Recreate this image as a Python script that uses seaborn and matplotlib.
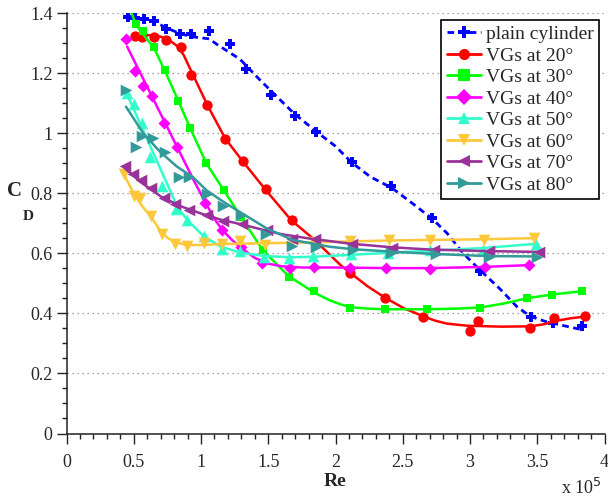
import numpy as np
import pandas as pd
import seaborn as sns
import matplotlib
matplotlib.use("Agg")
import matplotlib.pyplot as plt
from matplotlib.lines import Line2D
from matplotlib.ticker import MultipleLocator

sns.set_style("ticks")
plt.rcParams['font.family'] = ['Liberation Serif', 'DejaVu Serif']

# ---------------- data (Re in units of 1e5, CD) ----------------
labels = ["plain cylinder", "VGs at 20°", "VGs at 30°", "VGs at 40°",
          "VGs at 50°", "VGs at 60°", "VGs at 70°", "VGs at 80°"]

# measured points (markers)
plain_re = [0.459, 0.506, 0.575, 0.649, 0.743, 0.842, 0.927, 1.063, 1.212, 1.338, 1.517,
            1.697, 1.856, 2.124, 2.416, 2.719, 3.078, 3.45, 3.616, 3.829]
plain_cd = [1.389, 1.383, 1.38, 1.375, 1.347, 1.33, 1.33, 1.342, 1.297, 1.214, 1.128,
            1.059, 1.005, 0.903, 0.824, 0.717, 0.542, 0.387, 0.367, 0.358]

vg20_re = [0.513, 0.563, 0.649, 0.743, 0.848, 0.927, 1.047, 1.178, 1.31, 1.48, 1.673,
           2.106, 2.367, 2.652, 3.0, 3.06, 3.445, 3.624, 3.854]
vg20_cd = [1.324, 1.32, 1.32, 1.311, 1.289, 1.194, 1.095, 0.982, 0.909, 0.814, 0.711,
           0.535, 0.452, 0.389, 0.343, 0.376, 0.35, 0.385, 0.391]

vg30_re = [0.52, 0.57, 0.65, 0.73, 0.83, 0.915, 1.037, 1.168, 1.30, 1.46, 1.655, 1.839,
           2.106, 2.367, 2.682, 3.078, 3.425, 3.611, 3.829]
vg30_cd = [1.363, 1.341, 1.289, 1.211, 1.109, 1.019, 0.901, 0.81, 0.72, 0.612, 0.522, 0.475,
           0.417, 0.414, 0.414, 0.419, 0.45, 0.461, 0.474]

vg40_re = [0.446, 0.513, 0.57, 0.635, 0.725, 0.821, 1.029, 1.158, 1.294, 1.455, 1.658, 1.837,
           2.106, 2.379, 2.706, 3.115, 3.437]
vg40_cd = [1.314, 1.209, 1.159, 1.126, 1.034, 0.954, 0.767, 0.677, 0.622, 0.567, 0.553, 0.554,
           0.553, 0.552, 0.547, 0.555, 0.561]

vg50_re = [0.449, 0.502, 0.561, 0.623, 0.712, 0.817, 0.896, 1.02, 1.154, 1.292, 1.465, 1.657,
           1.835, 2.112, 2.392, 2.706, 3.098, 3.487]
vg50_cd = [1.135, 1.098, 1.033, 0.922, 0.825, 0.748, 0.71, 0.657, 0.615, 0.608, 0.588, 0.585,
           0.59, 0.598, 0.602, 0.613, 0.613, 0.633]

vg60_re = [0.428, 0.502, 0.546, 0.626, 0.708, 0.81, 0.896, 1.022, 1.154, 1.29, 1.476, 1.839,
           2.106, 2.396, 2.706, 3.103, 3.474]
vg60_cd = [0.865, 0.792, 0.786, 0.723, 0.665, 0.63, 0.626, 0.634, 0.63, 0.642, 0.629, 0.637,
           0.641, 0.644, 0.646, 0.646, 0.652]

vg70_re = [0.437, 0.497, 0.557, 0.625, 0.722, 0.808, 0.91, 1.042, 1.166, 1.306, 1.489, 1.674,
           1.85, 2.124, 2.421, 2.731, 3.14, 3.512]
vg70_cd = [0.892, 0.864, 0.843, 0.818, 0.784, 0.764, 0.746, 0.728, 0.707, 0.698, 0.677, 0.649,
           0.648, 0.631, 0.619, 0.611, 0.609, 0.606]

vg80_re = [0.444, 0.515, 0.561, 0.642, 0.734, 0.833, 0.913, 1.044, 1.166, 1.3, 1.485, 1.68,
           1.856, 2.131, 2.409, 2.744, 3.14, 3.5]
vg80_cd = [1.146, 0.955, 0.991, 0.983, 0.939, 0.854, 0.855, 0.798, 0.757, 0.728, 0.666, 0.625,
           0.621, 0.613, 0.603, 0.597, 0.589, 0.589]

# fitted curves
plain_fit_re = [0.46, 0.65, 0.74, 0.84, 0.93, 1.06, 1.12, 1.29, 1.44, 1.69, 1.86, 2.0, 2.12,
                2.26, 2.42, 2.58, 2.72, 2.83, 2.95, 3.08, 3.22, 3.35, 3.45, 3.57, 3.72, 3.84]
plain_fit_cd = [1.39, 1.373, 1.352, 1.333, 1.322, 1.315, 1.296, 1.247, 1.177, 1.067, 1.005,
                0.957, 0.903, 0.855, 0.818, 0.764, 0.715, 0.667, 0.6, 0.542, 0.483, 0.422,
                0.39, 0.372, 0.357, 0.345]

vg20_fit_re = [0.50, 0.60, 0.70, 0.76, 0.82, 0.87, 0.93, 1.05, 1.18, 1.31, 1.48, 1.67, 1.84,
               2.04, 2.11, 2.24, 2.37, 2.51, 2.65, 2.74, 2.83, 2.98, 3.23, 3.45, 3.55, 3.65,
               3.75, 3.85]
vg20_fit_cd = [1.33, 1.328, 1.322, 1.312, 1.292, 1.262, 1.205, 1.092, 0.983, 0.907, 0.812,
               0.711, 0.647, 0.56, 0.535, 0.49, 0.452, 0.417, 0.391, 0.376, 0.366, 0.359,
               0.356, 0.357, 0.364, 0.376, 0.384, 0.389]

vg30_fit_re = [0.475, 0.52, 0.57, 0.65, 0.73, 0.83, 0.917, 1.04, 1.17, 1.30, 1.46, 1.65, 1.84,
               1.95, 2.04, 2.11, 2.24, 2.37, 2.68, 2.9, 3.08, 3.25, 3.43, 3.61, 3.83]
vg30_fit_cd = [1.41, 1.36, 1.33, 1.285, 1.21, 1.11, 1.02, 0.90, 0.81, 0.72, 0.61, 0.525, 0.47,
               0.445, 0.43, 0.421, 0.416, 0.414, 0.414, 0.416, 0.42, 0.433, 0.451, 0.463, 0.474]

vg40_fit_re = [0.451, 0.55, 0.65, 0.75, 0.85, 0.95, 1.03, 1.10, 1.16, 1.23, 1.30, 1.40, 1.50,
               1.60, 1.75, 2.0, 2.4, 2.7, 3.1, 3.44]
vg40_fit_cd = [1.289, 1.20, 1.11, 1.02, 0.93, 0.84, 0.772, 0.715, 0.677, 0.645, 0.618, 0.585,
               0.566, 0.557, 0.553, 0.553, 0.551, 0.551, 0.555, 0.561]

vg50_fit_re = [0.44, 0.55, 0.65, 0.75, 0.82, 0.90, 1.02, 1.15, 1.29, 1.46, 1.66, 1.84, 2.1,
               2.4, 2.7, 3.1, 3.49]
vg50_fit_cd = [1.14, 1.03, 0.93, 0.83, 0.758, 0.71, 0.657, 0.622, 0.603, 0.592, 0.587, 0.589,
               0.595, 0.602, 0.609, 0.618, 0.632]

vg60_fit_re = [0.43, 0.5, 0.55, 0.63, 0.71, 0.76, 0.81, 0.9, 1.0, 1.2, 1.5, 1.84, 2.1, 2.4, 2.7,
               3.1, 3.47]
vg60_fit_cd = [0.86, 0.80, 0.765, 0.72, 0.668, 0.649, 0.637, 0.628, 0.628, 0.632, 0.634, 0.637,
               0.64, 0.643, 0.645, 0.647, 0.651]

vg70_fit_re = [0.43, 0.55, 0.7, 0.85, 1.0, 1.15, 1.3, 1.44, 1.6, 1.8, 2.1, 2.4, 2.7, 3.1, 3.51]
vg70_fit_cd = [0.885, 0.838, 0.79, 0.757, 0.733, 0.712, 0.697, 0.681, 0.664, 0.65, 0.633,
               0.621, 0.613, 0.608, 0.605]

vg80_fit_re = [0.442, 0.571, 0.695, 0.819, 0.943, 1.042, 1.166, 1.30, 1.49, 1.68, 1.96, 2.13,
               2.41, 2.74, 3.14, 3.5]
vg80_fit_cd = [1.089, 1.0, 0.939, 0.89, 0.853, 0.81, 0.772, 0.735, 0.683, 0.645, 0.622, 0.614,
               0.606, 0.598, 0.591, 0.59]

x_ticks = [0, 0.5, 1, 1.5, 2, 2.5, 3, 3.5, 4]
x_tick_labels = ["0", "0.5", "1", "1.5", "2", "2.5", "3", "3.5", "4"]
y_ticks = [0, 0.2, 0.4, 0.6, 0.8, 1.0, 1.2, 1.4]
y_tick_labels = ["0", "0.2", "0.4", "0.6", "0.8", "1", "1.2", "1.4"]

# ---------------- styles ----------------
colors = ["#0000FF", "#FF0000", "#00FF00", "#FF00FF", "#33FFCC", "#FFC83C", "#993399", "#339999"]
markers = ["P", "o", "s", "D", "^", "v", "<", ">"]
msizes = [60, 55, 38, 38, 70, 70, 70, 70]

series = [
    (plain_re, plain_cd, plain_fit_re, plain_fit_cd),
    (vg20_re, vg20_cd, vg20_fit_re, vg20_fit_cd),
    (vg30_re, vg30_cd, vg30_fit_re, vg30_fit_cd),
    (vg40_re, vg40_cd, vg40_fit_re, vg40_fit_cd),
    (vg50_re, vg50_cd, vg50_fit_re, vg50_fit_cd),
    (vg60_re, vg60_cd, vg60_fit_re, vg60_fit_cd),
    (vg70_re, vg70_cd, vg70_fit_re, vg70_fit_cd),
    (vg80_re, vg80_cd, vg80_fit_re, vg80_fit_cd),
]

W, H = 608, 499
fig = plt.figure(figsize=(W / 100, H / 100), dpi=100)
ax_l, ax_r, ax_t, ax_b = 66.5, 604.5, 13.3, 433.5
ax = fig.add_axes([ax_l / W, 1 - ax_b / H, (ax_r - ax_l) / W, (ax_b - ax_t) / H])

for i, (mre, mcd, fre, fcd) in enumerate(series):
    ls = (0, (2.4, 1.6)) if i == 0 else "-"
    lw = 2.0 if i == 0 else 1.8
    sns.lineplot(x=fre, y=fcd, ax=ax, color=colors[i], lw=lw, linestyle=ls,
                 sort=False, estimator=None, legend=False, zorder=3 + i * 0.1,
                 solid_joinstyle="round")
    sns.scatterplot(x=mre, y=mcd, ax=ax, color=colors[i], marker=markers[i],
                    s=msizes[i], linewidth=0, legend=False, zorder=3.05 + i * 0.1)

ax.set_xlim(0, 4)
ax.set_ylim(0, 1.4)
ax.set_xticks(x_ticks)
ax.set_xticklabels(x_tick_labels)
ax.set_yticks(y_ticks)
ax.set_yticklabels(y_tick_labels)
ax.xaxis.set_minor_locator(MultipleLocator(0.1))
ax.yaxis.set_minor_locator(MultipleLocator(0.05))
ax.tick_params(which="major", length=7, width=1.0, labelsize=13, color="#222222", pad=3)
ax.tick_params(axis="x", which="major", pad=7.5)
ax.tick_params(which="minor", length=3.5, width=1.0, color="#222222")
for s in ["top", "right"]:
    ax.spines[s].set_visible(False)
for s in ["left", "bottom"]:
    ax.spines[s].set_linewidth(1.1)
    ax.spines[s].set_color("#222222")
ax.yaxis.grid(True, linestyle=(0, (1, 3)), color="#888888", linewidth=0.9)
ax.xaxis.grid(False)
ax.set_axisbelow(True)
ax.set_xlabel("")
ax.set_ylabel("")

# labels
fig.text(335 / W, 1 - 481 / H, "Re", ha="center", va="center", fontsize=14, fontweight="bold")
fig.text(602 / W, 1 - 494 / H, r"x 10$^{5}$", ha="right", va="baseline", fontsize=13)
fig.text(15 / W, 1 - 190.5 / H, "C", ha="center", va="center", fontsize=15, fontweight="bold")
fig.text(28 / W, 1 - 216 / H, "D", ha="center", va="center", fontsize=11, fontweight="bold")

# legend
handles = []
for i in range(8):
    ls = (0, (2.4, 1.6)) if i == 0 else "-"
    handles.append(Line2D([0], [0], color=colors[i], lw=2.0, linestyle=ls,
                          marker=markers[i], markersize=8, markeredgewidth=0))
leg = ax.legend(handles, labels, loc="upper right", bbox_to_anchor=(0.99, 0.985),
                borderaxespad=0, fontsize=14, frameon=True, fancybox=False,
                framealpha=1, edgecolor="black", labelspacing=0.2, handlelength=1.75,
                handletextpad=0.25, borderpad=0.3)
leg.get_frame().set_linewidth(1.2)
leg.set_zorder(10)

fig.savefig("out.png", dpi=100)
